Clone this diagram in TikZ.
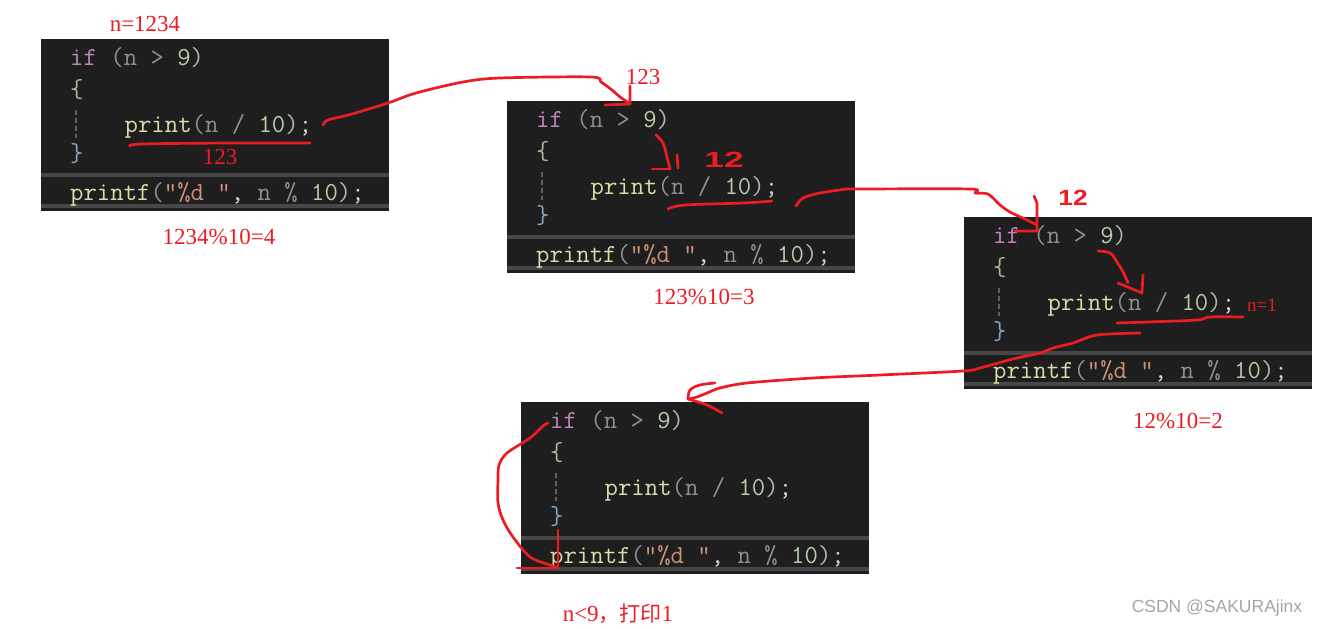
\documentclass[tikz,border=0pt]{standalone}
\usepackage{fontspec}
\setmainfont{Liberation Serif}
\newfontfamily\cjk{Noto Sans CJK SC}
\newfontfamily\handfont{Liberation Sans}
\definecolor{bgc}{HTML}{1E1E1E}
\definecolor{bandc}{HTML}{474747}
\definecolor{guidec}{HTML}{5E5E5E}
\definecolor{kwc}{HTML}{C586C0}
\definecolor{fnc}{HTML}{DCDCAA}
\definecolor{numc}{HTML}{B5CEA8}
\definecolor{strc}{HTML}{CE9178}
\definecolor{dimc}{HTML}{909090}
\definecolor{parc}{HTML}{B4B4B4}
\definecolor{punc}{HTML}{D4D4D4}
\definecolor{brcA}{HTML}{A8B79A}
\definecolor{brcB}{HTML}{7FA6C8}
\definecolor{penred}{RGB}{237,28,36}
\definecolor{wmc}{RGB}{165,165,165}
\newcommand\codefont{\ttfamily\fontsize{26}{30}\selectfont}
\newcommand\codeblock[3]{%
  \begin{scope}[shift={(#2,#3)}]
    \node[codebg] (#1) at (0,0) {};
    \fill[bandc] (0,134) rectangle (348,138);
    \fill[bandc] (0,165) rectangle (348,169);
    \draw[guide] (35,71) -- (35,99);
    \node[code] (#1-if) at (29,26) {\textcolor{kwc}{if} (n > \textcolor{numc}{9}\textcolor{parc}{)}};
    \node[code] (#1-lb) at (29,58) {\textcolor{brcA}{\{}};
    \node[code] (#1-pr) at (83.5,93) {\textcolor{fnc}{print}(n / \textcolor{numc}{10}\textcolor{parc}{)}\textcolor{punc}{;}};
    \node[code] (#1-rb) at (29,122) {\textcolor{brcB}{\}}};
    \node[code] (#1-pf) at (29,161) {\textcolor{fnc}{printf}(\textcolor{strc}{"\%d "}\textcolor{punc}{,} n \% \textcolor{numc}{10}\textcolor{parc}{)}\textcolor{punc}{;}};
  \end{scope}}
\begin{document}
\begin{tikzpicture}[x=1pt,y=-1pt,
  codebg/.style={anchor=north west,fill=bgc,draw=none,minimum width=348pt,minimum height=172pt,inner sep=0pt},
  code/.style={anchor=base west,inner sep=0pt,font=\codefont,text=dimc},
  guide/.style={draw=guidec,line width=1.3pt,dash pattern=on 5pt off 3pt},
  pen/.style={draw=penred,line width=2.7pt,line cap=round,line join=round},
  lab/.style={text=penred,inner sep=0pt,font=\fontsize{23}{26}\selectfont},
  smalllab/.style={text=penred,inner sep=0pt,font=\fontsize{19}{22}\selectfont},
  hand/.style={text=penred,inner sep=0pt,font=\handfont\bfseries\fontsize{22}{24}\selectfont},
  wm/.style={text=wmc,inner sep=0pt,font=\handfont\fontsize{17.5}{20}\selectfont}]
\useasboundingbox[fill=white] (0,0) rectangle (1318,629);

\codeblock{b1}{41}{39}
\codeblock{b2}{507}{101}
\codeblock{b3}{964}{217}
\codeblock{b4}{521}{402}

% labels
\node[lab] (l1) at (145,24) {n=1234};
\node[lab] (l2) at (220,157) {123};
\node[lab] (l3) at (219,237) {1234\%10=4};
\node[lab] (l4) at (643,77) {123};
\node[lab] (l5) at (704,297) {123\%10=3};
\node[lab] (l6) at (1178,421) {12\%10=2};
\node[smalllab] (l7) at (1262,305) {n=1};
\node[lab] (l8) at (618,614) {n<9{\cjk\fontsize{21}{24}\selectfont ，打印}1};
\node[hand] (h1) at (724,160) {\scalebox{1.6}[1]{12}};
\node[hand] (h2) at (1073,198) {\scalebox{1.2}[1]{12}};
\node[wm] (wm) at (1217,608) {CSDN @SAKURAjinx};

% named ends of the pen strokes
\coordinate (s2a) at (323,125);
\coordinate (s2b) at (630,104);
\coordinate (s5a) at (796,206);
\coordinate (s5b) at (1037,231);
\coordinate (s8a) at (1140,333);
\coordinate (s8b) at (688,399);
\coordinate (s9a) at (548,423);
\coordinate (s9b) at (558,568);

% box 1
\draw[pen] plot[smooth,tension=0.6] coordinates {(130,146) (143,144) (230,143) (310,143)};
% box1 -> box2
\draw[pen] plot[smooth,tension=0.5] coordinates {(s2a) (328,120) (352,114) (388,103) (416,93) (463,82) (500,78) (591,77) (601,82) (612,90) (620,97) (629,103)};
\draw[pen] (630,86) -- (s2b) -- (605,105);
% box 2
\draw[pen] plot[smooth,tension=0.6] coordinates {(656,135) (663,143) (667,157) (670,169)};
\draw[pen] (652,169) -- (670,169);
\draw[pen] (677,155) -- (678,168);
\draw[pen] plot[smooth,tension=0.6] coordinates {(668,209) (685,205) (743,203) (772,201)};
% box2 -> box3
\draw[pen] plot[smooth,tension=0.5] coordinates {(s5a) (803,198) (820,193) (847,189) (857,189) (970,189) (975,193) (988,194) (1000,205) (1010,212) (1027,220) (1037,225)};
\draw[pen] (1034,196) -- (1037,203) -- (s5b) -- (1015,231);
% box 3
\draw[pen] plot[smooth,tension=0.6] coordinates {(1098,251) (1110,253) (1117,262) (1123,272) (1128,283)};
\draw[pen] (1118,283) -- (1142,293) -- (1143,275);
\draw[pen] plot[smooth,tension=0.6] coordinates {(1117,323) (1147,322) (1197,320) (1210,317) (1243,317)};
% box3 -> box4
\draw[pen] plot[smooth,tension=0.5] coordinates {(s8a) (1097,335) (1073,343) (1053,348) (1040,353) (1013,359) (980,368) (963,371) (880,375) (813,378) (747,383) (720,388) (707,393) (697,397) (s8b)};
\draw[pen] plot[smooth,tension=0.6] coordinates {(s8b) (690,390) (700,385) (715,383)};
\draw[pen] plot[smooth,tension=0.6] coordinates {(s8b) (707,405) (722,413)};
% box 4
\draw[pen] plot[smooth,tension=0.5] coordinates {(s9a) (543,426) (530,438) (507,453) (499,465) (498,480) (498,503) (503,520) (513,537) (530,557) (550,565) (s9b)};
\draw[pen] (558,530) -- (s9b) -- (517,568);
\end{tikzpicture}
\end{document}
